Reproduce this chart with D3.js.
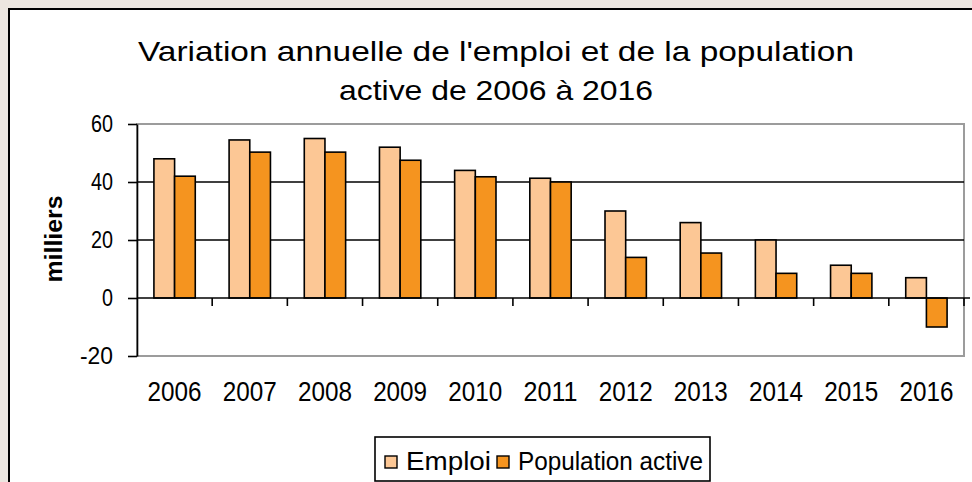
<!DOCTYPE html>
<html>
<head>
<meta charset="utf-8">
<script src="https://cdn.jsdelivr.net/npm/d3@7"></script>
<style>
  body { margin: 0; background: #ece6e0; overflow: hidden; }
  svg { display: block; }
  text { font-family: "Liberation Sans", Arial, sans-serif; fill: #000; }
</style>
</head>
<body>
<script>
// data
const years = ["2006","2007","2008","2009","2010","2011","2012","2013","2014","2015","2016"];
const emploi = [48, 54.5, 55, 52, 44, 41.3, 30, 26, 20, 11.3, 7];
const popActive = [42, 50.3, 50.3, 47.5, 41.8, 40, 14, 15.5, 8.5, 8.5, -10];
const seriesNames = ["Emploi", "Population active"];
const seriesColors = ["#fcc795", "#f5941f"];
const yTicks = [-20, 0, 20, 40, 60];
const titleLines = ["Variation annuelle de l'emploi et de la population", "active de 2006 à 2016"];

const w = 972, h = 482;
const plot = {left: 137, right: 964, top: 124, bottom: 356};

const svg = d3.select("body").append("svg").attr("width", w).attr("height", h);

// chart frame
svg.append("rect")
  .attr("x", 9).attr("y", 9).attr("width", 1000).attr("height", 500)
  .attr("fill", "#fff").attr("stroke", "#000").attr("stroke-width", 2);

// title
svg.selectAll("text.title")
  .data(titleLines)
  .enter().append("text")
  .attr("class", "title")
  .attr("x", 496)
  .attr("y", (d, i) => 61 + i * 39)
  .attr("text-anchor", "middle")
  .style("font-size", "28px")
  .attr("textLength", (d, i) => i == 0 ? 716 : 314)
  .attr("lengthAdjust", "spacingAndGlyphs")
  .text(d => d);

const x0 = d3.scaleBand().domain(years).range([plot.left, plot.right])
  .paddingInner(0.45).paddingOuter(0.225);
const x1 = d3.scaleBand().domain(seriesNames).range([0, x0.bandwidth()]);
const y = d3.scaleLinear().domain([-20, 60]).range([plot.bottom, plot.top]);

// plot border (grey)
svg.append("rect")
  .attr("x", plot.left).attr("y", plot.top)
  .attr("width", plot.right - plot.left).attr("height", plot.bottom - plot.top)
  .attr("fill", "none").attr("stroke", "#9c9c9c").attr("stroke-width", 2);

// grid lines
svg.selectAll("line.grid")
  .data([20, 40])
  .enter().append("line")
  .attr("x1", plot.left).attr("x2", plot.right)
  .attr("y1", d => y(d)).attr("y2", d => y(d))
  .attr("stroke", "#000").attr("stroke-width", 1.6);

// bars
const rows = years.map((yr, i) => ({year: yr, vals: [emploi[i], popActive[i]]}));
const groups = svg.selectAll("g.year")
  .data(rows)
  .enter().append("g")
  .attr("transform", d => "translate(" + x0(d.year) + ",0)");
groups.selectAll("rect")
  .data(d => d.vals.map((v, j) => ({name: seriesNames[j], v: v, c: seriesColors[j]})))
  .enter().append("rect")
  .attr("x", d => x1(d.name))
  .attr("y", d => y(Math.max(0, d.v)))
  .attr("width", x1.bandwidth())
  .attr("height", d => Math.abs(y(d.v) - y(0)))
  .attr("fill", d => d.c)
  .attr("stroke", "#000").attr("stroke-width", 1.6);

// y axis
const yAxis = svg.append("g")
  .attr("transform", "translate(" + plot.left + ",0)")
  .call(d3.axisLeft(y).tickValues(yTicks).tickSize(9).tickPadding(15).tickSizeOuter(0)
    .tickFormat(d => String(d)));
yAxis.select(".domain").attr("stroke", "#000").attr("stroke-width", 1.6);
yAxis.selectAll(".tick line").attr("stroke", "#000").attr("stroke-width", 1.6);
yAxis.selectAll(".tick text")
  .style("font-size", "24px").style("font-family", "'Liberation Sans', Arial, sans-serif")
  .attr("fill", "#000")
  .attr("textLength", d => String(d).length * 11)
  .attr("lengthAdjust", "spacingAndGlyphs");

// zero line with category ticks
const step = x0.step();
svg.append("line")
  .attr("x1", plot.left).attr("x2", plot.right + 6)
  .attr("y1", y(0)).attr("y2", y(0))
  .attr("stroke", "#000").attr("stroke-width", 1.6);
svg.selectAll("line.xtick")
  .data(d3.range(1, years.length + 1))
  .enter().append("line")
  .attr("x1", k => plot.left + k * step).attr("x2", k => plot.left + k * step)
  .attr("y1", y(0)).attr("y2", y(0) + 8)
  .attr("stroke", "#000").attr("stroke-width", 1.6);

// x labels
svg.selectAll("text.xlab")
  .data(years)
  .enter().append("text")
  .attr("x", d => x0(d) + x0.bandwidth() / 2)
  .attr("y", 401)
  .attr("text-anchor", "middle")
  .style("font-size", "27px")
  .attr("textLength", 54).attr("lengthAdjust", "spacingAndGlyphs")
  .text(d => d);

// y title
svg.append("text")
  .attr("transform", "translate(62,239) rotate(-90)")
  .attr("text-anchor", "middle")
  .style("font-size", "24px").style("font-weight", "bold")
  .attr("textLength", 87).attr("lengthAdjust", "spacingAndGlyphs")
  .text("milliers");

// legend
const leg = svg.append("g");
leg.append("rect")
  .attr("x", 375).attr("y", 437).attr("width", 335).attr("height", 44)
  .attr("fill", "#fff").attr("stroke", "#000").attr("stroke-width", 1.6);
const legX = [385, 497];
const legLen = [85, 185];
seriesNames.forEach((s, i) => {
  leg.append("rect")
    .attr("x", legX[i]).attr("y", 456).attr("width", 12).attr("height", 12)
    .attr("fill", seriesColors[i]).attr("stroke", "#000").attr("stroke-width", 1.4);
  leg.append("text")
    .attr("x", legX[i] + 21).attr("y", 470)
    .style("font-size", "25px")
    .attr("textLength", legLen[i]).attr("lengthAdjust", "spacingAndGlyphs")
    .text(s);
});
</script>
</body>
</html>
